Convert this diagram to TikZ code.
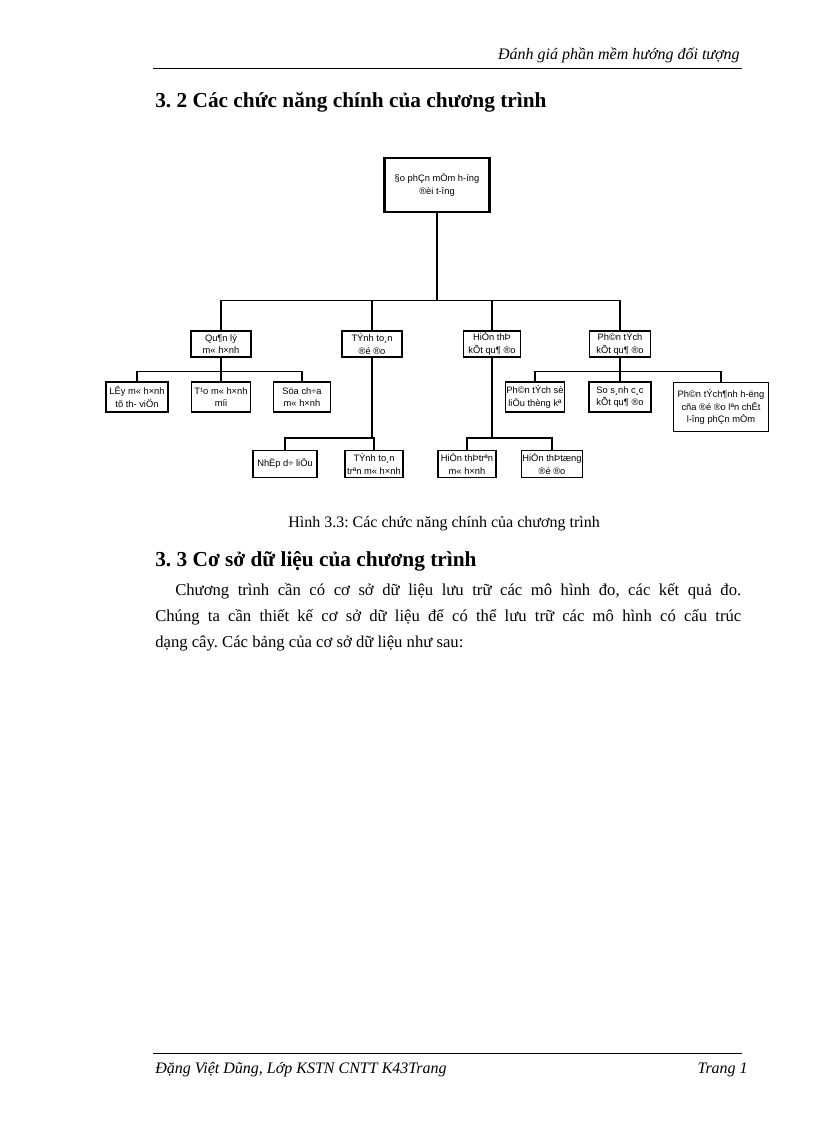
\documentclass[tikz,border=0pt]{standalone}
\usepackage{fontspec}
\setmainfont{Liberation Serif}
\newfontfamily\boxfont{Liberation Sans}
\usetikzlibrary{positioning}

\begin{document}
\frenchspacing
\begin{tikzpicture}[x=0.75pt, y=-0.75pt,
  box/.style={draw, line width=0.8pt, align=center, inner sep=1pt,
              font=\boxfont\fontsize{7}{9.5}\selectfont, minimum height=26*0.75pt},
  topbox/.style={box, line width=2pt, minimum width=105*0.75pt, minimum height=54*0.75pt},
  link/.style={line width=0.8pt},
  pagetext/.style={inner sep=0pt}
]
  \useasboundingbox (0,0) rectangle (816,1123);

  % page head and foot
  \node[pagetext, anchor=base east, font=\itshape\fontsize{12}{14}\selectfont] (head) at (740,60)
    {Đánh giá phần mềm  hướng đối tượng};
  \draw[line width=0.6pt] (153,68) -- (742,68);
  \draw[line width=0.6pt] (153,1053) -- (742,1053);
  \node[pagetext, anchor=base west, font=\itshape\fontsize{12}{14}\selectfont] (foot) at (155,1073)
    {Đặng Việt Dũng, Lớp KSTN CNTT K43Trang};
  \node[pagetext, anchor=base east, font=\itshape\fontsize{12}{14}\selectfont] (page) at (748,1073) {Trang 1};

  \node[pagetext, anchor=base west, font=\bfseries\fontsize{16}{18}\selectfont] (sec32) at (155,108)
    {3. 2 Các chức năng chính  của chương trình};

  % the tree
  \node[topbox] (root) at (437,185) {§o phÇn mÒm h-íng\\®èi t-îng};

  \node[box, minimum width=60*0.75pt] (ql) at (221,344) {Qu¶n lý\\m« h×nh};
  \node[box, minimum width=60*0.75pt] (tt) at (372,344) {TÝnh to¸n\\®é ®o};
  \node[box, minimum width=57*0.75pt] (hc) at (492,344) {HiÓn thÞ\\kÕt qu¶ ®o};
  \node[box, minimum width=61*0.75pt] (pt) at (620,344) {Ph©n tÝch\\kÕt qu¶ ®o};

  \node[box, minimum width=62*0.75pt, minimum height=30*0.75pt] (ly)  at (137,397) {LÊy m« h×nh\\tõ th- viÖn};
  \node[box, minimum width=59*0.75pt, minimum height=30*0.75pt] (tao) at (221,397) {T¹o m« h×nh\\míi};
  \node[box, minimum width=57*0.75pt, minimum height=30*0.75pt] (sua) at (302,397) {Söa ch÷a\\m« h×nh};

  \node[box, minimum width=64*0.75pt, minimum height=27*0.75pt] (nhap)   at (285,464) {NhËp d÷ liÖu};
  \node[box, minimum width=58*0.75pt, minimum height=27*0.75pt] (tttr)   at (374,464) {TÝnh to¸n\\trªn m« h×nh};
  \node[box, minimum width=58*0.75pt, minimum height=27*0.75pt] (hctr)   at (467,464) {HiÓn thÞtrªn\\m« h×nh};
  \node[box, minimum width=60*0.75pt, minimum height=27*0.75pt] (hctong) at (552,464) {HiÓn thÞtæng\\®é ®o};

  \node[box, minimum width=59*0.75pt, minimum height=30*0.75pt] (ptso) at (535,397) {Ph©n tÝch sè\\liÖu thèng kª};
  \node[box, minimum width=62*0.75pt, minimum height=30*0.75pt] (ss)   at (620,397) {So s¸nh c¸c\\kÕt qu¶ ®o};
  \node[box, minimum width=95*0.75pt, minimum height=49*0.75pt] (ptah) at (721,407)
    {Ph©n tÝch¶nh h-ëng\\cña ®é ®o lªn chÊt\\l-îng phÇn mÒm};

  % links
  \draw[link] (root.south) -- (root.south |- 0,300);
  \draw[link] (ql.north) -- ++(0,-30) -| (pt.north);
  \draw[link] (tt.north) -- ++(0,-30);
  \draw[link] (hc.north) -- ++(0,-30);

  \draw[link] (ly.north) -- ++(0,-10) -| (sua.north);
  \draw[link] (tao.north) -- (ql.south);

  \draw[link] (nhap.north) -- ++(0,-12) -| (tttr.north);
  \draw[link] (tt.south) -- (tt.south |- 0,438);

  \draw[link] (hctr.north) -- ++(0,-12) -| (hctong.north);
  \draw[link] (hc.south) -- (hc.south |- 0,438);

  \draw[link] (ptso.north) -- ++(0,-10) -| (ptah.north);
  \draw[link] (pt.south) -- (pt.south |- 0,372);
  \draw[link] (ss.north) -- ++(0,-10);

  % text under the tree
  \node[pagetext, anchor=base, font=\fontsize{12}{14}\selectfont] (cap) at (444,527)
    {Hình 3.3: Các chức năng chính của chương trình};
  \node[pagetext, anchor=base west, font=\bfseries\fontsize{16}{18}\selectfont] (sec33) at (155,566)
    {3. 3 Cơ sở dữ liệu của chương trình};
  \node[pagetext, anchor=north west, text width=586*0.75pt, align=justify,
        font=\fontsize{12.5}{19.5}\selectfont] (para) at (155,583)
    {\hspace*{15pt}Chương trình cần có cơ sở dữ liệu lưu trữ các mô hình đo, các kết quả đo.\linebreak
     Chúng ta cần thiết kế cơ sở dữ liệu để có thể lưu trữ các mô hình có cấu trúc\linebreak
     dạng cây. Các bảng của cơ sở dữ liệu như sau:};
\end{tikzpicture}
\end{document}
